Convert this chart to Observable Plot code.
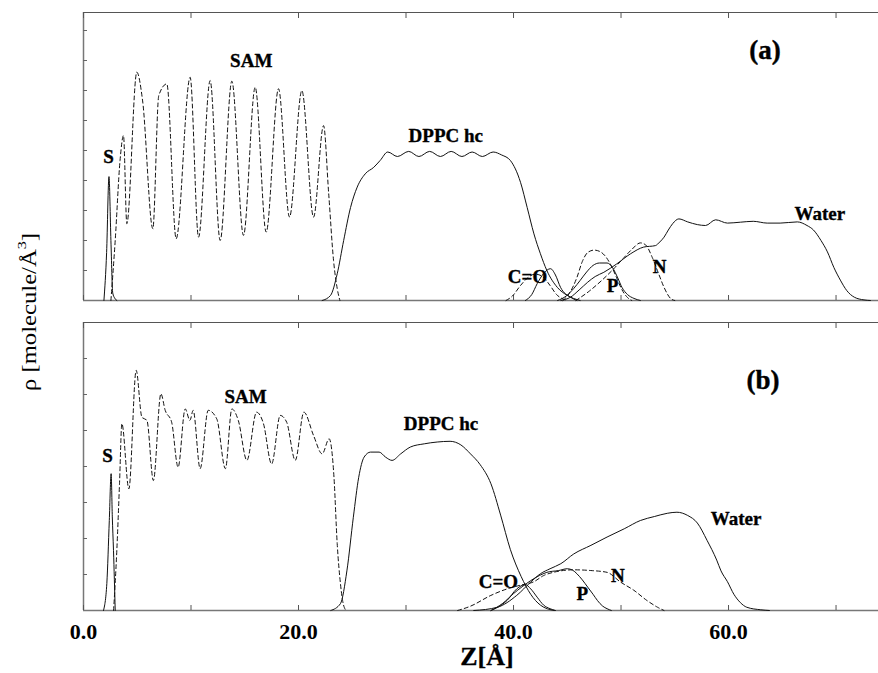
<!DOCTYPE html>
<html>
<head>
<meta charset="utf-8">
<script src="https://cdn.jsdelivr.net/npm/d3@7"></script>
<script src="https://cdn.jsdelivr.net/npm/@observablehq/plot@0.6"></script>
<style>
  body { margin: 0; background: #fff; }
  #fig { position: relative; width: 878px; height: 673px; font-family: "Liberation Serif", "Times New Roman", serif; overflow: hidden; }
  #panelA { position: absolute; left: 0; top: 0; }
  #panelB { position: absolute; left: 0; top: 305px; }
  #ylab { position: absolute; left: 0; top: 0; }
  #xlab { position: absolute; left: 427px; width: 120px; top: 644px; text-align: center; font-weight: bold; font-size: 26px; line-height: 26px; -webkit-text-stroke: 0.3px #000; }
</style>
</head>
<body>
<div id="fig">
  <div id="panelA"></div>
  <div id="panelB"></div>
  <svg id="ylab" width="60" height="673">
    <text x="29" y="312" transform="rotate(-90 29 312)" text-anchor="middle" dominant-baseline="central"
          font-family="Liberation Serif, Times New Roman, serif" font-size="20" textLength="158" lengthAdjust="spacingAndGlyphs">ρ [molecule/Å<tspan dy="-8" font-size="13">3</tspan><tspan dy="8">]</tspan></text>
  </svg>
  <div id="xlab">Z[Å]</div>
</div>
<script>
// ---------- shared axis ----------
const zDomain = [0, 73.95];
const zTicks = [0, 10, 20, 30, 40, 50, 60, 70];
const zTickLabels = [0, 20, 40, 60];

// ---------- panel (a): density profiles, z in Å ----------
const a_S_z = [1.9, 2.15, 2.37, 2.55, 2.72, 2.9, 3.1];
const a_S_rho = [0, 1.6, 4.13, 2.0, 0.25, 0.08, 0];

const a_SAM_z = [2.55, 2.95, 3.4, 3.72, 4.03, 4.96, 5.5, 6.45, 7.0, 7.75, 8.62, 9.92, 10.7, 11.78, 12.71, 13.8, 14.88, 15.97, 16.99, 18.14, 19.16, 20.31, 21.4, 22.33, 22.8, 23.26, 23.6, 23.85];
const a_SAM_rho = [0, 2.0, 4.67, 5.5, 2.56, 7.61, 6.65, 2.39, 6.83, 7.22, 2.06, 7.44, 2.11, 7.33, 2.0, 7.31, 2.17, 7.11, 2.28, 7.06, 2.78, 7.0, 2.78, 5.83, 3.6, 1.33, 0.4, 0];

const a_DPPC_z = [22.2, 22.98, 23.6, 24.2, 24.84, 25.46, 26.2, 27.0, 27.6, 28.3, 29.2, 30.25, 31.2, 32.2, 33.2, 34.2, 35.2, 36.15, 37.1, 38.1, 38.9, 39.7, 40.65, 41.27, 41.9, 42.5, 43.1, 44.07, 45.0, 46.2];
const a_DPPC_rho = [0, 0.17, 0.89, 2.0, 3.1, 3.78, 4.22, 4.44, 4.67, 4.95, 4.8, 4.97, 4.8, 4.97, 4.8, 4.97, 4.8, 4.95, 4.8, 4.95, 4.85, 4.67, 3.94, 3.1, 2.22, 1.56, 1.0, 0.44, 0.17, 0];

const a_CO_z = [41.1, 41.7, 42.2, 42.8, 43.44, 43.9, 44.37, 45.3, 45.9];
const a_CO_rho = [0, 0.2, 0.56, 0.9, 1.06, 0.85, 0.44, 0.11, 0];

const a_CO2_z = [39.3, 39.9, 40.65, 41.3, 42.0, 42.7, 43.4, 44.0, 44.6, 45.0];
const a_CO2_rho = [0, 0.15, 0.5, 0.75, 0.88, 0.8, 0.5, 0.2, 0.05, 0];

const a_P_z = [44.1, 44.9, 45.6, 46.2, 46.8, 47.4, 48.0, 48.7, 49.2, 49.7, 50.1, 50.6, 51.2, 51.8];
const a_P_rho = [0, 0.15, 0.4, 0.67, 0.95, 1.17, 1.25, 1.25, 1.1, 0.75, 0.43, 0.2, 0.07, 0];

const a_P2_z = [44.6, 45.3, 45.9, 46.4, 46.9, 47.5, 48.1, 48.6, 49.1, 49.6, 50.1, 50.6, 51.0];
const a_P2_rho = [0, 0.3, 0.77, 1.3, 1.6, 1.68, 1.62, 1.45, 1.15, 0.75, 0.35, 0.1, 0];

const a_N_z = [45.8, 47.0, 48.3, 49.3, 50.2, 51.0, 51.8, 52.3, 52.9, 53.5, 54.0, 54.6, 55.0];
const a_N_rho = [0, 0.3, 0.7, 1.05, 1.4, 1.7, 1.92, 1.85, 1.44, 0.89, 0.44, 0.07, 0];

const a_W_z = [44.4, 45.3, 46.1, 46.9, 47.6, 48.4, 49.6, 50.9, 52.1, 53.2, 53.6, 54.0, 54.4, 54.8, 55.38, 56.2, 57.1, 57.86, 58.8, 59.9, 61.1, 62.3, 63.6, 64.8, 66.4, 67.3, 67.9, 68.6, 69.2, 69.8, 70.4, 71.0, 71.7, 72.6, 73.2];
const a_W_rho = [0, 0.11, 0.35, 0.61, 0.8, 0.94, 1.22, 1.56, 1.78, 1.83, 1.95, 2.11, 2.35, 2.56, 2.72, 2.62, 2.53, 2.5, 2.69, 2.58, 2.61, 2.64, 2.58, 2.58, 2.62, 2.5, 2.35, 2.0, 1.62, 1.1, 0.68, 0.33, 0.11, 0.02, 0];

const a_labelText = ["S", "SAM", "DPPC hc", "C=O", "P", "N", "Water"];
const a_labelZ = [2.33, 15.6, 33.7, 41.3, 49.2, 53.6, 68.5];
const a_labelRho = [4.8, 8.0, 5.5, 0.8, 0.47, 1.13, 2.9];
const a_tag = {text: "(a)", z: 63.4, rho: 8.33};
const a_rhoMax = 9.6;
const a_rhoTicks = [1, 2, 3, 4, 5, 6, 7, 8, 9];

// ---------- panel (b) ----------
const b_S_z = [1.86, 2.17, 2.4, 2.57, 2.68, 2.79, 2.95];
const b_S_rho = [0, 0.75, 2.5, 3.8, 2.6, 1.67, 0];

const b_SAM_z = [2.8, 3.1, 3.35, 3.57, 4.22, 4.9, 5.43, 5.9, 6.5, 7.2, 7.6, 8.2, 8.8, 9.46, 9.9, 10.2, 10.85, 11.6, 12.4, 13.2, 13.8, 14.4, 15.2, 16.1, 16.74, 17.5, 18.3, 18.9, 19.7, 20.5, 21.4, 22.2, 22.85, 23.3, 23.6, 23.9, 24.1, 24.4];
const b_SAM_rho = [0, 1.67, 3.52, 5.19, 3.38, 6.67, 5.37, 5.28, 3.61, 6.02, 5.56, 5.23, 3.98, 5.6, 5.28, 5.56, 3.94, 5.56, 5.32, 3.94, 5.6, 5.28, 4.17, 5.51, 5.19, 4.07, 5.42, 5.23, 4.17, 5.51, 4.86, 4.35, 4.77, 3.7, 1.85, 0.75, 0.28, 0];

const b_DPPC_z = [23.0, 23.9, 24.5, 25.1, 25.6, 26.1, 26.7, 27.5, 28.1, 28.7, 29.5, 30.4, 31.7, 32.9, 34.1, 35.1, 36.0, 36.9, 37.9, 38.8, 39.7, 40.7, 41.6, 42.5, 43.8];
const b_DPPC_rho = [0, 0.19, 1.1, 2.59, 3.7, 4.26, 4.4, 4.4, 4.26, 4.17, 4.35, 4.54, 4.63, 4.68, 4.7, 4.6, 4.35, 4.05, 3.52, 2.65, 1.7, 0.95, 0.45, 0.15, 0];

const b_CO_z = [37.9, 38.6, 39.4, 40.3, 41.1, 41.6, 42.2, 42.8, 43.4, 43.9];
const b_CO_rho = [0, 0.1, 0.28, 0.6, 0.72, 0.6, 0.37, 0.15, 0.05, 0];

const b_P_z = [37.9, 39.0, 40.0, 40.8, 41.6, 42.4, 43.1, 44.2, 45.0, 45.5, 45.9, 46.4, 46.9, 47.4, 47.8, 48.3, 48.7, 49.1];
const b_P_rho = [0, 0.2, 0.47, 0.66, 0.83, 0.97, 1.06, 1.11, 1.16, 1.12, 1.02, 0.85, 0.65, 0.45, 0.28, 0.12, 0.05, 0];

const b_N_z = [34.8, 36.0, 37.9, 39.4, 40.6, 41.9, 42.8, 43.7, 45.6, 47.2, 48.7, 49.95, 51.2, 52.4, 53.4, 54.0];
const b_N_rho = [0, 0.12, 0.42, 0.6, 0.7, 0.8, 0.97, 1.06, 1.13, 1.11, 1.06, 0.79, 0.56, 0.28, 0.09, 0];

const b_W_z = [36.3, 38.5, 40.3, 41.6, 42.5, 43.4, 44.4, 45.6, 47.2, 48.7, 50.3, 51.8, 53.1, 54.3, 55.2, 56.2, 57.1, 58.0, 58.9, 59.3, 59.9, 60.5, 61.1, 61.7, 63.0, 63.8];
const b_W_rho = [0, 0.09, 0.42, 0.79, 1.02, 1.16, 1.3, 1.57, 1.81, 2.04, 2.27, 2.5, 2.61, 2.7, 2.73, 2.64, 2.43, 1.95, 1.4, 1.1, 0.8, 0.45, 0.22, 0.09, 0.02, 0];

const b_labelText = ["S", "SAM", "DPPC hc", "C=O", "P", "N", "Water"];
const b_labelZ = [2.23, 15.07, 33.26, 38.6, 46.4, 49.7, 60.7];
const b_labelRho = [4.3, 5.94, 5.17, 0.79, 0.47, 0.97, 2.54];
const b_tag = {text: "(b)", z: 63.2, rho: 6.4};
const b_rhoMax = 8;
const b_rhoTicks = [1, 2, 3, 4, 5, 6, 7];

// ---------- helpers ----------
const zip = (z, rho) => z.map((v, i) => ({z: v, rho: rho[i]}));
const DASH = "4,3";

function profile(z, rho, dashed) {
  return Plot.line(zip(z, rho), {
    x: "z", y: "rho", curve: "monotone-x",
    stroke: "#111", strokeWidth: 1,
    strokeDasharray: dashed ? DASH : null
  });
}

function panel({curves, labelText, labelZ, labelRho, tag, rhoMax, rhoTicks, height, marginTop, marginBottom, withTickLabels}) {
  const labels = labelText.map((t, i) => ({text: t, z: labelZ[i], rho: labelRho[i]}));
  const marks = [
    // frame: left, bottom, top
    Plot.ruleX([0], {stroke: "#777", strokeWidth: 1.5}),
    Plot.ruleY([0], {stroke: "#777", strokeWidth: 1.5}),
    Plot.ruleY([rhoMax], {stroke: "#555", strokeWidth: 1}),
    // inward ticks
    Plot.axisY({ticks: rhoTicks, tickSize: -4, tickFormat: () => "", label: null, stroke: "#666"}),
    Plot.axisX({anchor: "bottom", ticks: zTicks, tickSize: -5, tickFormat: () => "", label: null, stroke: "#555"}),
    Plot.axisX({anchor: "top", ticks: zTicks, tickSize: -5, tickFormat: () => "", label: null, stroke: "#555"}),
    ...curves.map(([z, rho, dashed]) => profile(z, rho, dashed)),
    Plot.text(labels, {x: "z", y: "rho", text: "text", fontSize: 19, fontWeight: "bold", textAnchor: "middle", lineAnchor: "middle",
      fill: "#000", stroke: "#000", strokeWidth: 0.35}),
    Plot.text([tag], {x: "z", y: "rho", text: "text", fontSize: 27, fontWeight: "bold", textAnchor: "middle", lineAnchor: "middle",
      fill: "#000", stroke: "#000", strokeWidth: 0.4})
  ];
  if (withTickLabels) {
    marks.push(Plot.axisX({anchor: "bottom", ticks: zTickLabels, tickSize: 0, tickPadding: 13,
      tickFormat: d3.format(".1f"), fontSize: 22, fontWeight: "bold", label: null, fill: "#000", stroke: "#000", strokeWidth: 0.3}));
  }
  return Plot.plot({
    width: 878, height, marginLeft: 83, marginRight: 0, marginTop, marginBottom,
    style: {fontFamily: "Liberation Serif, Times New Roman, serif", background: "transparent", overflow: "visible", color: "#000"},
    x: {domain: zDomain},
    y: {domain: [0, rhoMax]},
    marks
  });
}

document.getElementById("panelA").append(panel({
  curves: [
    [a_S_z, a_S_rho, false],
    [a_SAM_z, a_SAM_rho, true],
    [a_DPPC_z, a_DPPC_rho, false],
    [a_CO2_z, a_CO2_rho, true],
    [a_CO_z, a_CO_rho, false],
    [a_P2_z, a_P2_rho, true],
    [a_P_z, a_P_rho, false],
    [a_N_z, a_N_rho, true],
    [a_W_z, a_W_rho, false]
  ],
  labelText: a_labelText, labelZ: a_labelZ, labelRho: a_labelRho, tag: a_tag,
  rhoMax: a_rhoMax, rhoTicks: a_rhoTicks,
  height: 305, marginTop: 12, marginBottom: 5, withTickLabels: false
}));

document.getElementById("panelB").append(panel({
  curves: [
    [b_S_z, b_S_rho, false],
    [b_SAM_z, b_SAM_rho, true],
    [b_DPPC_z, b_DPPC_rho, false],
    [b_CO_z, b_CO_rho, false],
    [b_N_z, b_N_rho, true],
    [b_P_z, b_P_rho, false],
    [b_W_z, b_W_rho, false]
  ],
  labelText: b_labelText, labelZ: b_labelZ, labelRho: b_labelRho, tag: b_tag,
  rhoMax: b_rhoMax, rhoTicks: b_rhoTicks,
  height: 368, marginTop: 17, marginBottom: 63, withTickLabels: true
}));
</script>
</body>
</html>
